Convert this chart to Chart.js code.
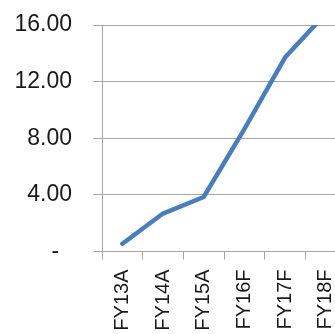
<!DOCTYPE html>
<html>
<head>
<meta charset="utf-8">
<script src="https://cdn.jsdelivr.net/npm/chart.js@4.4.1/dist/chart.umd.min.js"></script>
<style>
  html, body { margin: 0; padding: 0; background: #ffffff; overflow: hidden; }
  #wrap { position: relative; width: 346px; height: 334px; }
</style>
</head>
<body>
<div id="wrap"><canvas id="chart"></canvas></div>
<script>
// Fiscal years (A = actual, F = forecast)
const categories = ['FY13A', 'FY14A', 'FY15A', 'FY16F', 'FY17F', 'FY18F'];
const seriesValues = [0.55, 2.68, 3.85, 8.65, 13.7, 16.8];
const yTicks = [0, 4, 8, 12, 16];

const gridGray = '#a6a6a6';
const lineBlue = '#4a7ebb';

new Chart(document.getElementById('chart'), {
  type: 'line',
  data: {
    labels: categories,
    datasets: [{
      data: seriesValues,
      borderColor: lineBlue,
      borderWidth: 4.5,
      borderCapStyle: 'round',
      borderJoinStyle: 'round',
      pointRadius: 0,
      pointHoverRadius: 0,
      tension: 0,
      fill: false
    }]
  },
  options: {
    responsive: true,
    maintainAspectRatio: false,
    animation: false,
    events: [],
    layout: { padding: { top: 25, right: 0, bottom: 0, left: 0 } },
    plugins: { legend: { display: false }, tooltip: { enabled: false } },
    scales: {
      x: {
        type: 'category',
        offset: true,
        grid: {
          offset: true,
          drawOnChartArea: false,
          drawTicks: true,
          tickLength: 8,
          color: gridGray
        },
        border: { color: gridGray, width: 1 },
        ticks: {
          minRotation: 90,
          maxRotation: 90,
          autoSkip: false,
          padding: 10,
          color: '#1a1a1a',
          font: { family: '"Liberation Sans", Arial, sans-serif', size: 20 }
        },
        afterFit(scale) {
          scale.height = 82.5;
          scale.paddingLeft = 0;
          scale.paddingRight = 0;
        }
      },
      y: {
        min: 0,
        max: 16,
        afterBuildTicks(scale) { scale.ticks = yTicks.map(v => ({ value: v })); },
        grid: {
          color: gridGray,
          drawTicks: true,
          tickLength: 9
        },
        border: { color: gridGray, width: 1 },
        ticks: {
          padding: 21,
          color: '#1a1a1a',
          font: { family: '"Liberation Sans", Arial, sans-serif', size: 23 },
          callback: v => (v === 0 ? '-  ' : v.toFixed(2))
        },
        afterFit(scale) {
          scale.width = 102;
          scale.paddingTop = 0;
          scale.paddingBottom = 0;
        }
      }
    }
  }
});
</script>
</body>
</html>
